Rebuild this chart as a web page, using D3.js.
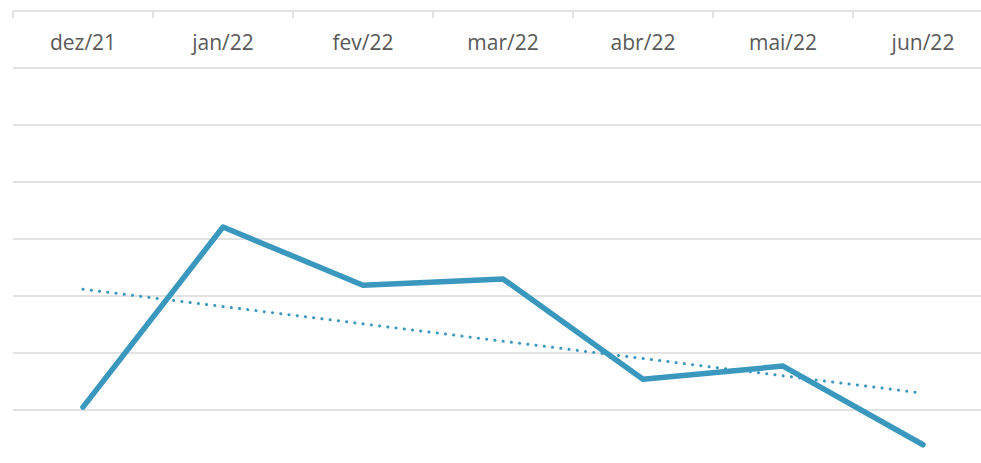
<!DOCTYPE html>
<html>
<head>
<meta charset="utf-8">
<script src="https://cdn.jsdelivr.net/npm/d3@7"></script>
<style>
  html, body { margin: 0; padding: 0; background: #fff; }
  svg { display: block; }
</style>
</head>
<body>
<svg id="chart" width="981" height="463"></svg>
<script>
// categories and values (value axis runs downwards)
var months = ["dez/21", "jan/22", "fev/22", "mar/22", "abr/22", "mai/22", "jun/22"];
var values = [6.95, 3.79, 4.81, 4.70, 6.46, 6.23, 7.61];
var gridTicks = [0, 1, 2, 3, 4, 5, 6, 7, 8];

var svg = d3.select("#chart"),
  margin = {top: 11, left: 13},
  width = 980,   // plot runs a bit past the right edge of the picture
  height = 456,
  lineColor = "#3a97bd";

var g = svg.append("g").attr("transform", "translate(" + margin.left + "," + margin.top + ")");

var x = d3.scaleBand().domain(months).range([0, width]);
var y = d3.scaleLinear().domain([0, 8]).range([0, height]);

// horizontal gridlines
g.selectAll(".grid")
  .data(gridTicks.slice(1))
  .enter().append("line")
    .attr("class", "grid")
    .attr("x1", 0)
    .attr("x2", width)
    .attr("y1", function(d) { return y(d); })
    .attr("y2", function(d) { return y(d); })
    .attr("stroke", "#d9d9d9")
    .attr("stroke-width", 1.5);

// category axis sits on top, labels drawn below the line
var xAxis = d3.axisTop(x).tickSize(0).tickPadding(0);
var ax = g.append("g").attr("class", "x axis").call(xAxis);
ax.select(".domain").remove();
ax.selectAll("text")
  .attr("y", 39)
  .attr("dy", 0)
  .attr("fill", "#595959")
  .style("font-family", "'Open Sans', sans-serif")
  .style("font-size", "21px");

g.append("line")
  .attr("x1", 0).attr("x2", width)
  .attr("y1", y(0)).attr("y2", y(0))
  .attr("stroke", "#d9d9d9")
  .attr("stroke-width", 1.5);

// tick marks between categories
var bounds = months.map(function(m) { return x(m); }).concat([width]);
g.selectAll(".tick-mark")
  .data(bounds)
  .enter().append("line")
    .attr("class", "tick-mark")
    .attr("x1", function(d) { return d; })
    .attr("x2", function(d) { return d; })
    .attr("y1", y(0))
    .attr("y2", y(0) + 7)
    .attr("stroke", "#d9d9d9")
    .attr("stroke-width", 1.5);

var cx = function(i) { return x(months[i]) + x.bandwidth() / 2; };

// linear trendline (least squares, like the spreadsheet one)
var idx = d3.range(values.length),
  mx = d3.mean(idx),
  my = d3.mean(values),
  slope = d3.sum(idx, function(i) { return (i - mx) * (values[i] - my); }) /
          d3.sum(idx, function(i) { return (i - mx) * (i - mx); }),
  icpt = my - slope * mx;

var trend = [0, values.length - 1].map(function(i) { return {i: i, v: icpt + slope * i}; });

g.append("path")
  .datum(trend)
  .attr("fill", "none")
  .attr("stroke", lineColor)
  .attr("stroke-width", 3)
  .attr("stroke-linecap", "round")
  .attr("stroke-dasharray", "0.1 8.2")
  .attr("d", d3.line()
    .x(function(d) { return cx(d.i); })
    .y(function(d) { return y(d.v); }));

// main series
var line = d3.line()
  .x(function(d, i) { return cx(i); })
  .y(function(d) { return y(d); });

g.append("path")
  .datum(values)
  .attr("fill", "none")
  .attr("stroke", lineColor)
  .attr("stroke-width", 5.5)
  .attr("stroke-linejoin", "round")
  .attr("stroke-linecap", "round")
  .attr("d", line);
</script>
</body>
</html>
